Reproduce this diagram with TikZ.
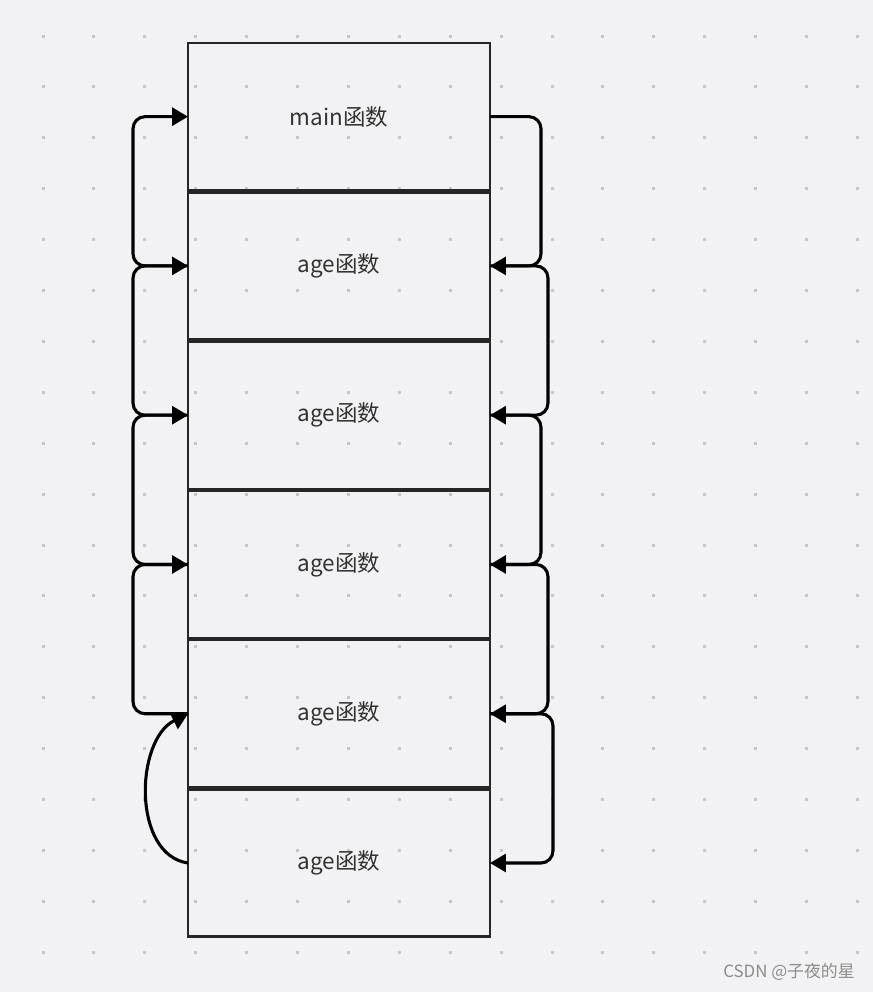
\documentclass[tikz,border=0pt]{standalone}
\usepackage{fontspec}
\newfontfamily\cjk{Noto Sans CJK SC}
\usepackage{tikz}
\usetikzlibrary{arrows.meta,positioning}
\definecolor{bgcol}{HTML}{F2F2F4}
\definecolor{dotcol}{HTML}{C6C6C8}
\definecolor{boxcol}{HTML}{262626}
\definecolor{txtcol}{HTML}{333333}

\begin{document}
\begin{tikzpicture}[x=0.02cm,y=-0.02cm,
    frame/.style={draw=boxcol,line width=1.45pt,minimum width=6.04cm,minimum height=2.946cm,
        inner sep=0pt,outer sep=0pt,text=txtcol,font=\cjk\fontsize{12.8}{15}\selectfont},
    link/.style={line width=1.75pt,rounded corners=0.24cm,-{Triangle[length=0.32cm,width=0.36cm]}}]
    % background and dot grid
    \fill[bgcol] (0,0) rectangle (873,992);
    \useasboundingbox (0,0) rectangle (873,992);
    \foreach \i in {0,...,16}
        \foreach \j in {0,...,18}
            \fill[dotcol] (43+50.9*\i-1.5,36+50.9*\j-1.5) rectangle ++(3,3);

    % stack frames
    \node[frame] (f1) at (339,116.65) {main函数};
    \node[frame,below=0.04cm of f1] (f2) {age函数};
    \node[frame,below=0.04cm of f2] (f3) {age函数};
    \node[frame,below=0.04cm of f3] (f4) {age函数};
    \node[frame,below=0.04cm of f4] (f5) {age函数};
    \node[frame,below=0.04cm of f5] (f6) {age函数};

    % calls
    \draw[link] (f1.east) -- ++(51,0) |- (f2.east);
    \draw[link] (f2.east) -- ++(58,0) |- (f3.east);
    \draw[link] (f3.east) -- ++(51,0) |- (f4.east);
    \draw[link] (f4.east) -- ++(58,0) |- (f5.east);
    \draw[link] (f5.east) -- ++(63,0) |- (f6.east);

    % returns
    \draw[link] (f6.west) .. controls (132,855) and (135,740) .. (f5.west);
    \draw[link] (f5.west) -- ++(-55,0) |- (f4.west);
    \draw[link] (f4.west) -- ++(-55,0) |- (f3.west);
    \draw[link] (f3.west) -- ++(-55,0) |- (f2.west);
    \draw[link] (f2.west) -- ++(-55,0) |- (f1.west);

    \node[text=black!45,font=\cjk\fontsize{9.6}{11}\selectfont] (mark) at (789,972) {CSDN @子夜的星};
\end{tikzpicture}
\end{document}
